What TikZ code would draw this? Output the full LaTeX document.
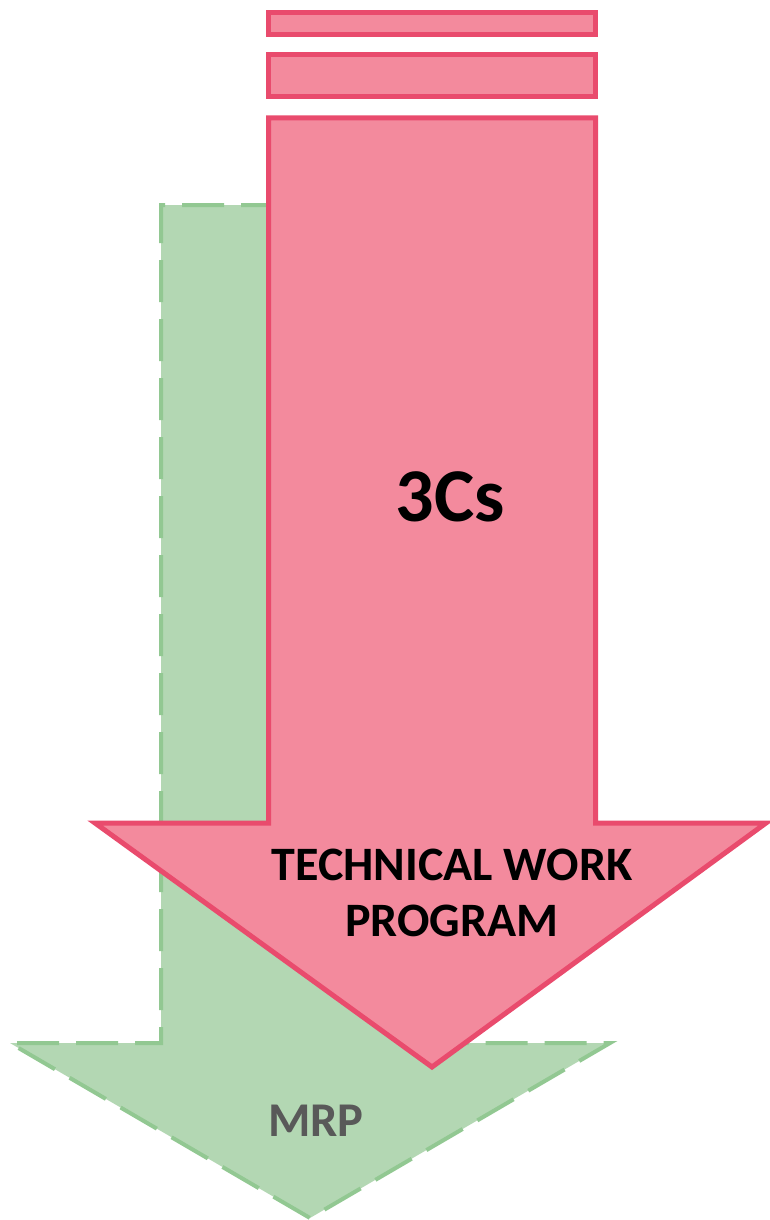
\documentclass[tikz,border=0pt]{standalone}
\usepackage{fontspec}
\setmainfont{Carlito}
\definecolor{gfill}{HTML}{B3D7B3}
\definecolor{gline}{HTML}{92C892}
\definecolor{pfill}{HTML}{F38A9D}
\definecolor{pline}{HTML}{E94B6D}
\definecolor{mrpgray}{HTML}{595959}
\tikzset{
  greenarrow/.style={fill=gfill, draw=gline, line width=4pt, dash pattern=on 42pt off 17pt, line join=miter},
  pinkshape/.style={fill=pfill, draw=pline, line width=5pt, line join=miter},
  lbl/.style={font=\bfseries, align=center, inner sep=0pt}
}
\begin{document}
\begin{tikzpicture}[x=1pt,y=-1pt]
\useasboundingbox (0,0) rectangle (769,1220);
% green arrow
\coordinate (g1) at (161,205);
\coordinate (g2) at (460,205);
\coordinate (g3) at (460,1043);
\coordinate (g4) at (610,1043);
\coordinate (g5) at (310,1218);
\coordinate (g6) at (10,1043);
\coordinate (g7) at (161,1043);
\fill[gfill] (g1) -- (g2) -- (g3) -- (g4) -- (g5) -- (g6) -- (g7) -- cycle;
\draw[greenarrow, fill=none] (g2) -- (g1) -- (g7) -- (g6) -- (g5) -- (g4) -- (g3);
% pink bars
\draw[pinkshape] (268.5,12.5) rectangle (595.5,34.5);
\draw[pinkshape] (268.5,55) rectangle (595.5,97);
% pink arrow
\draw[pinkshape] (268.5,118) -- (595.5,118) -- (595.5,823) -- (766,823) -- (432,1067) -- (95,823) -- (268.5,823) -- cycle;
% labels
\node[lbl, font=\fontsize{76}{76}\selectfont\bfseries] (c3) at (450,497) {3Cs};
\node[lbl, font=\fontsize{48}{56}\selectfont\bfseries] (twp) at (452,893) {TECHNICAL WORK\\PROGRAM};
\node[lbl, font=\fontsize{48.5}{48.5}\selectfont\bfseries, text=mrpgray] (mrp) at (316,1121) {MRP};
\end{tikzpicture}
\end{document}
